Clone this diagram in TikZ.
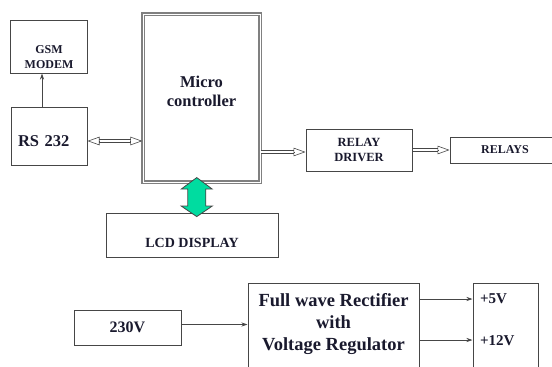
\documentclass[tikz,border=0pt]{standalone}
\usepackage{fontspec}
\setmainfont{Liberation Serif}
\usetikzlibrary{calc, positioning, arrows.meta}
\definecolor{boxgray}{RGB}{70,70,70}
\definecolor{inkblue}{RGB}{25,25,45}
\definecolor{lcdgreen}{RGB}{0,220,160}

\begin{document}
\begin{tikzpicture}
  [x=1pt, y=-1pt, node distance=33pt,
   block/.style={draw=boxgray, line width=1, text=inkblue, font=\bfseries, align=center, inner sep=2pt},
   mcblock/.style={block, draw=gray, line width=1.3, double=white, double distance=1},
   hollow/.style={draw=boxgray, line width=0.6, double=white, double distance=2.6},
   headtip/.style={draw=boxgray, line width=0.6, -{Triangle[open, length=12pt, width=8.5pt]}},
   wire/.style={draw=boxgray, line width=0.8, -{Stealth[length=6pt, width=4pt]}}]
  \clip (0,0) rectangle (552,367);

  % nodes %
  \node[mcblock, minimum width=117, minimum height=168, font=\bfseries\fontsize{16.5}{19}\selectfont, text depth=13pt] (mc) at (201.5,98) {Micro\\controller};
  \node[block, minimum width=76, minimum height=58, font=\bfseries\fontsize{16.5}{19}\selectfont, text height=21pt, text width=62pt, align=left] (rs) at (49,136) {RS 232};
  \node[block, above=33pt of rs, minimum width=77, minimum height=53, font=\bfseries\fontsize{12}{15}\selectfont, text height=44pt] (gsm) {GSM\\MODEM};
  \node[block, minimum width=106, minimum height=42, font=\bfseries\fontsize{12.5}{15}\selectfont] (drv) at (359,150) {RELAY\\DRIVER};
  \node[block, right=37pt of drv, minimum width=110, minimum height=26, font=\bfseries\fontsize{12}{14}\selectfont] (relays) {RELAYS};
  \node[block, minimum width=172, minimum height=44, font=\bfseries\fontsize{14}{16}\selectfont, text height=25pt] (lcd) at (192,235) {LCD DISPLAY};
  \node[block, minimum width=107, minimum height=35, font=\bfseries\fontsize{16}{18}\selectfont] (mains) at (127.5,327.5) {230V};
  \node[block, anchor=north, minimum width=171, inner ysep=10pt, text depth=100pt, font=\bfseries\fontsize{18.5}{22}\selectfont] (fwr) at (333.5,283) {Full wave Rectifier\\with\\Voltage Regulator};
  \node[block, anchor=north, minimum width=65, text width=51pt, align=left, inner xsep=7pt, inner ysep=10pt, text depth=100pt, font=\bfseries\fontsize{15}{18}\selectfont] (out) at (505.5,283) {+5V\\[24pt]+12V};
  \coordinate (link) at ($(mc.south)!.5!(lcd.north)$);

  % ends of the hollow arrows %
  \coordinate (rsR) at ([yshift=-5pt]rs.east);
  \coordinate (mcL) at (rsR -| mc.west);
  \coordinate (drvL) at ([yshift=-2pt]drv.west);
  \coordinate (mcR) at (drvL -| mc.east);
  \coordinate (drvR) at (drv.east);
  \coordinate (relL) at (drvR -| relays.west);

  % edges %
  \draw[wire] ([xshift=-7pt]rs.north) -- ([xshift=-7pt]gsm.south);
  \draw[hollow, shorten <=11.5pt, shorten >=11.5pt] (rsR) -- (mcL);
  \draw[headtip] ($(rsR)+(12,0)$) -- (rsR);
  \draw[headtip] ($(mcL)+(-12,0)$) -- (mcL);
  \draw[hollow, shorten >=11.5pt] (mcR) -- (drvL);
  \draw[headtip] ($(drvL)+(-12,0)$) -- (drvL);
  \draw[hollow, shorten >=11.5pt] (drvR) -- (relL);
  \draw[headtip] ($(relL)+(-12,0)$) -- (relL);
  \draw[draw=boxgray, line width=0.8, fill=lcdgreen, shift={(link)}]
    (0,-20) -- (15.5,-8.5) -- (9,-8.5) -- (9,8.5) -- (15.5,8.5) -- (0,19)
    -- (-15.5,8.5) -- (-9,8.5) -- (-9,-8.5) -- (-15.5,-8.5) -- cycle;
  \draw[wire] ([yshift=3pt]mains.east) -- ([yshift=3pt]mains.east -| fwr.west);
  \draw[wire] ([yshift=-16pt]fwr.north east) -- ([yshift=-16pt]out.north west);
  \draw[wire] ([yshift=-57pt]fwr.north east) -- ([yshift=-57pt]out.north west);
\end{tikzpicture}
\end{document}
